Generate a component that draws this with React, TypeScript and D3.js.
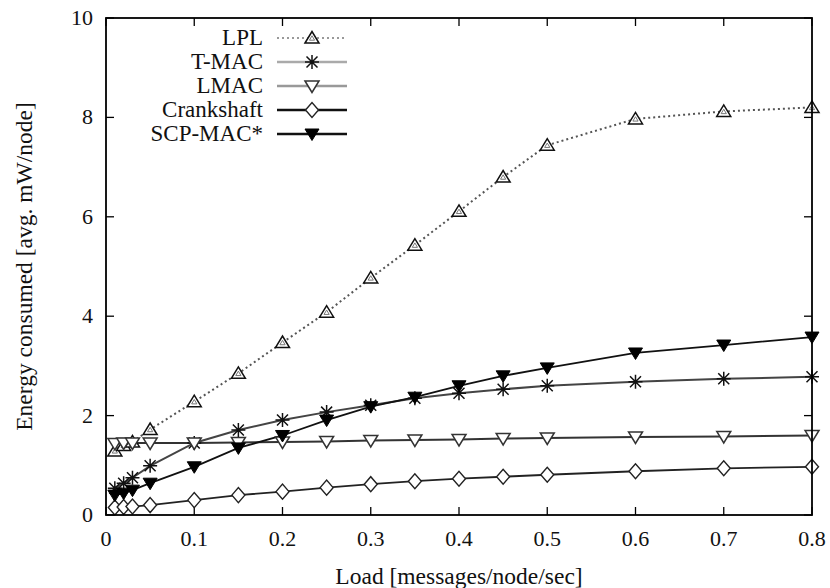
import React from 'react';
import * as d3 from 'd3';

const loads = [0.01, 0.02, 0.03, 0.05, 0.1, 0.15, 0.2, 0.25, 0.3, 0.35, 0.4, 0.45, 0.5, 0.6, 0.7, 0.8];
const lpl = [1.29, 1.4, 1.47, 1.72, 2.28, 2.85, 3.47, 4.08, 4.77, 5.43, 6.11, 6.8, 7.44, 7.97, 8.12, 8.2];
const tmac = [0.54, 0.64, 0.75, 0.99, 1.45, 1.71, 1.91, 2.07, 2.21, 2.35, 2.45, 2.53, 2.6, 2.68, 2.74, 2.78];
const lmac = [1.44, 1.45, 1.45, 1.45, 1.45, 1.46, 1.47, 1.48, 1.5, 1.51, 1.52, 1.54, 1.55, 1.57, 1.58, 1.6];
const crank = [0.15, 0.16, 0.17, 0.2, 0.3, 0.4, 0.47, 0.55, 0.62, 0.68, 0.73, 0.77, 0.81, 0.88, 0.94, 0.97];
const scp = [0.4, 0.44, 0.5, 0.64, 0.97, 1.35, 1.6, 1.91, 2.18, 2.37, 2.6, 2.8, 2.96, 3.26, 3.42, 3.58];

const seriesNames = ['LPL', 'T-MAC', 'LMAC', 'Crankshaft', 'SCP-MAC*'];
const xTicks = [0, 0.1, 0.2, 0.3, 0.4, 0.5, 0.6, 0.7, 0.8];
const yTicks = [0, 2, 4, 6, 8, 10];

const W = 830, H = 588;
const L = 106, R = 812, T = 18, B = 515;
const FONT = "'Liberation Serif', 'DejaVu Serif', serif";
const txt: React.CSSProperties = { fontFamily: FONT };

const x = d3.scaleLinear().domain([0, 0.8]).range([L, R]);
const y = d3.scaleLinear().domain([0, 10]).range([B, T]);

type MarkerKind = 'triUp' | 'star' | 'triDown' | 'diamond' | 'triDownFill';

function Marker({ kind }: { kind: MarkerKind }) {
  switch (kind) {
    case 'triUp':
      return (
        <g>
          <path d="M-7,5 L0,-6.5 L7,5 Z" fill="white" stroke="#111" strokeWidth={1.5} />
          <path d="M-2.6,2.2 L0,-2.2 L2.6,2.2 Z" fill="none" stroke="#777" strokeWidth={1} />
        </g>
      );
    case 'star':
      return (
        <path d="M-7,0 L7,0 M0,-7 L0,7 M-5.5,-5.5 L5.5,5.5 M-5.5,5.5 L5.5,-5.5" stroke="#111" strokeWidth={1.5} fill="none" />
      );
    case 'triDown':
      return <path d="M-7,-5 L0,6.5 L7,-5 Z" fill="white" stroke="#333" strokeWidth={1.5} />;
    case 'diamond':
      return <path d="M-6.5,0 L0,-7.5 L6.5,0 L0,7.5 Z" fill="white" stroke="#222" strokeWidth={1.4} />;
    case 'triDownFill':
      return <path d="M-7,-5 L0,6.5 L7,-5 Z" fill="#000" stroke="#000" strokeWidth={1} />;
  }
}

const series: { name: string; values: number[]; stroke: string; width: number; dash?: string; marker: MarkerKind; legendStroke: string }[] = [
  { name: seriesNames[0], values: lpl, stroke: '#555', width: 2, dash: '2,3', marker: 'triUp', legendStroke: '#999' },
  { name: seriesNames[1], values: tmac, stroke: '#444', width: 2, marker: 'star', legendStroke: '#aaa' },
  { name: seriesNames[2], values: lmac, stroke: '#333', width: 2, marker: 'triDown', legendStroke: '#999' },
  { name: seriesNames[3], values: crank, stroke: '#222', width: 1.8, marker: 'diamond', legendStroke: '#111' },
  { name: seriesNames[4], values: scp, stroke: '#111', width: 1.8, marker: 'triDownFill', legendStroke: '#111' },
];

export default function App() {
  const line = d3
    .line<number>()
    .x((_, i) => x(loads[i]))
    .y((v) => y(v));

  return (
    <svg width={W} height={H} style={{ display: 'block', position: 'absolute', left: 0, top: 0 }}>
      <rect x={0} y={0} width={W} height={H} fill="white" />
      {xTicks.map((t) => (
        <g key={'x' + t}>
          <line x1={x(t)} x2={x(t)} y1={B} y2={B - 8} stroke="#000" strokeWidth={1.3} />
          <line x1={x(t)} x2={x(t)} y1={T} y2={T + 8} stroke="#000" strokeWidth={1.3} />
          <text x={x(t)} y={546} textAnchor="middle" fontSize={22} fill="#111" style={txt}>
            {t === 0 ? '0' : t.toFixed(1)}
          </text>
        </g>
      ))}
      {yTicks.map((t) => (
        <g key={'y' + t}>
          <line x1={L} x2={L + 8} y1={y(t)} y2={y(t)} stroke="#000" strokeWidth={1.3} />
          <line x1={R} x2={R - 8} y1={y(t)} y2={y(t)} stroke="#000" strokeWidth={1.3} />
          <text x={93} y={y(t) + 7} textAnchor="end" fontSize={22} fill="#111" style={txt}>
            {t}
          </text>
        </g>
      ))}
      {series.map((s) => (
        <path key={'l' + s.name} d={line(s.values) || ''} fill="none" stroke={s.stroke} strokeWidth={s.width} strokeDasharray={s.dash} />
      ))}
      {series.map((s) => (
        <g key={'m' + s.name}>
          {s.values.map((v, i) => (
            <g key={i} transform={`translate(${x(loads[i])},${y(v)})`}>
              <Marker kind={s.marker} />
            </g>
          ))}
        </g>
      ))}
      <rect x={L} y={T} width={R - L} height={B - T} fill="none" stroke="#000" strokeWidth={1.8} />
      {series.map((s, i) => {
        const ly = 38 + i * 24;
        return (
          <g key={'lg' + s.name}>
            <text x={263} y={ly + 7} textAnchor="end" fontSize={23} fill="#111" style={txt}>
              {s.name}
            </text>
            <line x1={277} x2={347} y1={ly} y2={ly} stroke={s.legendStroke} strokeWidth={s.dash ? 2 : 2.4} strokeDasharray={s.dash} />
            <g transform={`translate(312,${ly})`}>
              <Marker kind={s.marker} />
            </g>
          </g>
        );
      })}
      <text x={(L + R) / 2} y={584} textAnchor="middle" fontSize={23.5} fill="#111" style={txt}>
        Load [messages/node/sec]
      </text>
      <text transform={`translate(32,${(T + B) / 2}) rotate(-90)`} textAnchor="middle" fontSize={23.5} fill="#111" style={txt}>
        Energy consumed [avg. mW/node]
      </text>
    </svg>
  );
}
